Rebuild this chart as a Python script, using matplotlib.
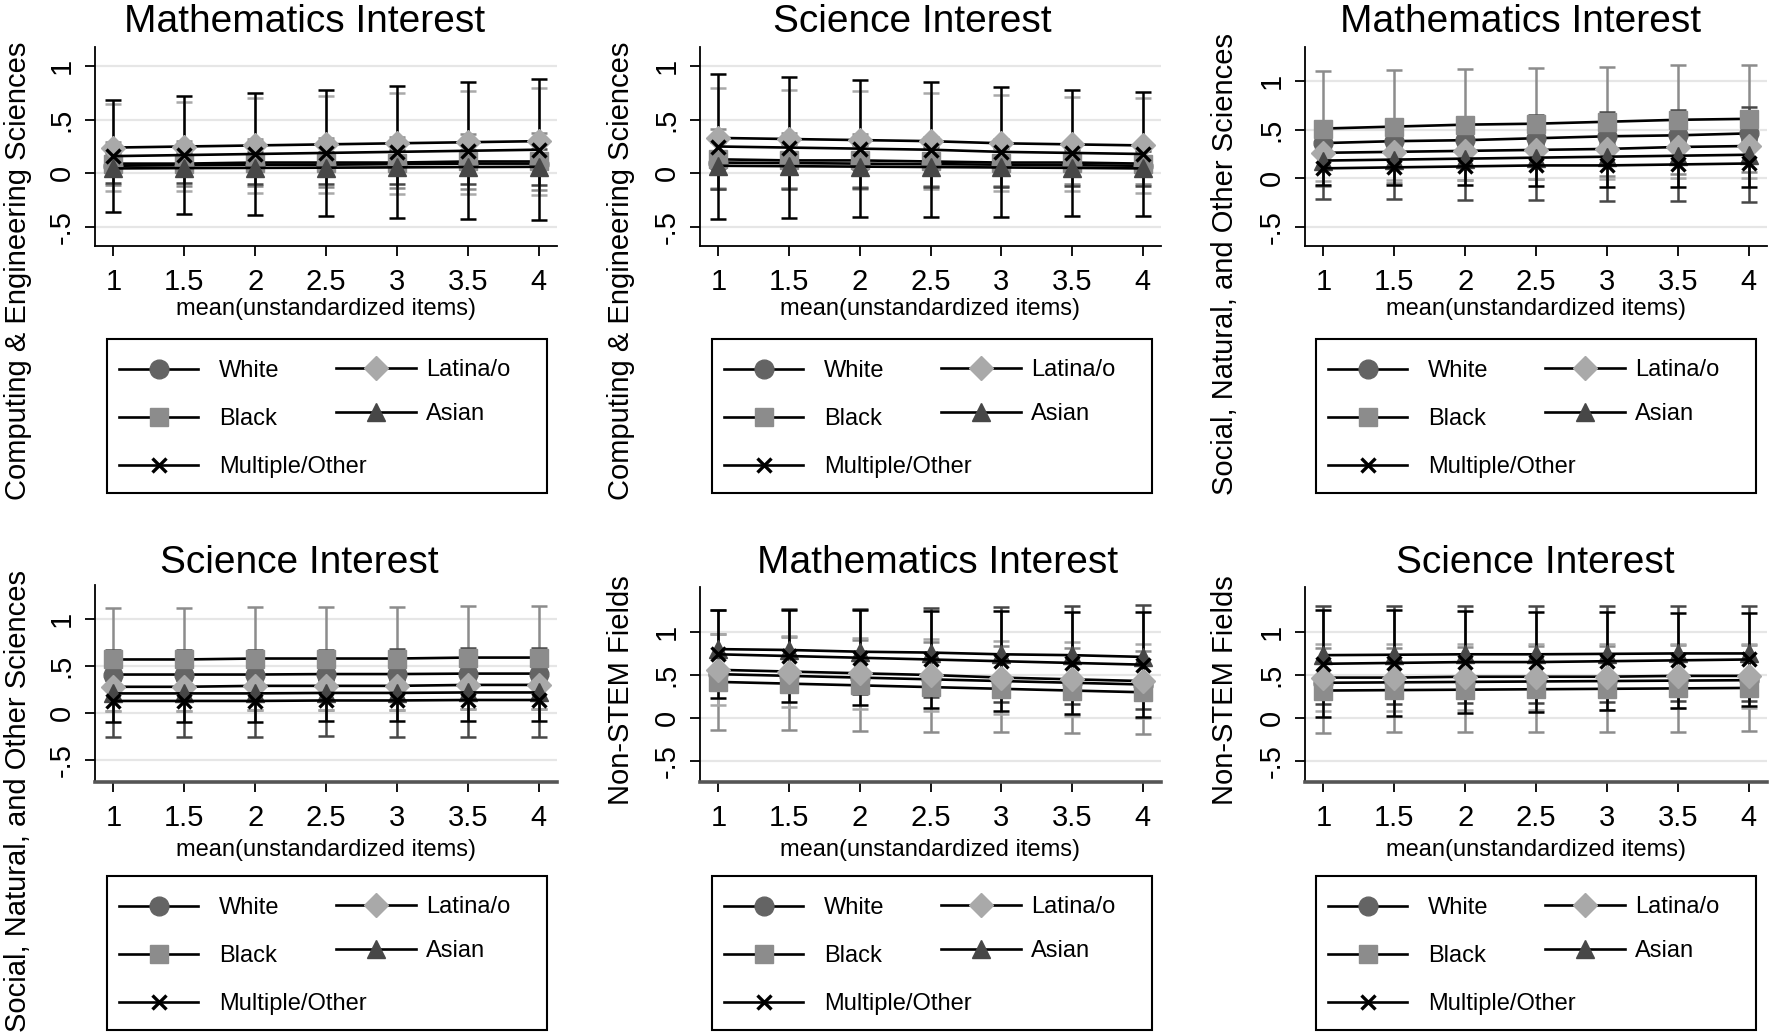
import matplotlib
matplotlib.use("Agg")
import matplotlib.pyplot as plt
from matplotlib.patches import Rectangle

plt.rcParams["font.family"] = ["Liberation Sans", "DejaVu Sans"]

W, H = 1770, 1033

x = [1, 1.5, 2, 2.5, 3, 3.5, 4]
x_ticklabels = ["1", "1.5", "2", "2.5", "3", "3.5", "4"]
y_ticks = [-0.5, 0, 0.5, 1]
y_ticklabels = ["-.5", "0", ".5", "1"]
groups = ["White", "Black", "Latina/o", "Asian", "Multiple/Other"]

# predicted values (mean) and CI half widths
ce_math_mean = {
    "White": [0.07, 0.075, 0.08, 0.08, 0.085, 0.09, 0.09],
    "Black": [0.09, 0.09, 0.10, 0.10, 0.10, 0.11, 0.11],
    "Latina/o": [0.24, 0.25, 0.26, 0.27, 0.28, 0.29, 0.30],
    "Asian": [0.045, 0.048, 0.05, 0.052, 0.055, 0.058, 0.06],
    "Multiple/Other": [0.16, 0.17, 0.18, 0.19, 0.20, 0.21, 0.22],
}
ce_math_ci = {
    "White": [0.04, 0.04, 0.04, 0.04, 0.04, 0.04, 0.04],
    "Black": [0.20, 0.21, 0.22, 0.23, 0.24, 0.26, 0.27],
    "Latina/o": [0.41, 0.42, 0.44, 0.45, 0.47, 0.48, 0.50],
    "Asian": [0.14, 0.14, 0.15, 0.15, 0.16, 0.16, 0.17],
    "Multiple/Other": [0.52, 0.55, 0.57, 0.59, 0.62, 0.64, 0.66],
}

ce_sci_mean = {
    "White": [0.10, 0.095, 0.09, 0.085, 0.08, 0.075, 0.07],
    "Black": [0.13, 0.12, 0.12, 0.11, 0.10, 0.10, 0.09],
    "Latina/o": [0.33, 0.32, 0.31, 0.30, 0.28, 0.27, 0.26],
    "Asian": [0.07, 0.066, 0.062, 0.058, 0.054, 0.05, 0.045],
    "Multiple/Other": [0.25, 0.24, 0.23, 0.22, 0.20, 0.19, 0.18],
}
ce_sci_ci = {
    "White": [0.04, 0.04, 0.04, 0.04, 0.04, 0.04, 0.04],
    "Black": [0.28, 0.26, 0.25, 0.23, 0.22, 0.20, 0.19],
    "Latina/o": [0.47, 0.46, 0.46, 0.45, 0.45, 0.44, 0.44],
    "Asian": [0.22, 0.21, 0.20, 0.19, 0.18, 0.17, 0.16],
    "Multiple/Other": [0.68, 0.66, 0.64, 0.63, 0.61, 0.59, 0.58],
}

sno_math_mean = {
    "White": [0.36, 0.38, 0.39, 0.41, 0.43, 0.44, 0.46],
    "Black": [0.51, 0.53, 0.55, 0.56, 0.58, 0.60, 0.61],
    "Latina/o": [0.26, 0.27, 0.28, 0.29, 0.30, 0.32, 0.33],
    "Asian": [0.18, 0.19, 0.20, 0.21, 0.22, 0.23, 0.24],
    "Multiple/Other": [0.10, 0.11, 0.12, 0.13, 0.13, 0.14, 0.15],
}
sno_math_ci = {
    "White": [0.05, 0.05, 0.05, 0.05, 0.05, 0.05, 0.05],
    "Black": [0.59, 0.58, 0.57, 0.57, 0.56, 0.56, 0.55],
    "Latina/o": [0.29, 0.29, 0.30, 0.30, 0.31, 0.32, 0.33],
    "Asian": [0.40, 0.41, 0.43, 0.44, 0.46, 0.47, 0.49],
    "Multiple/Other": [0.17, 0.18, 0.19, 0.21, 0.22, 0.23, 0.24],
}

sno_sci_mean = {
    "White": [0.41, 0.41, 0.41, 0.415, 0.415, 0.42, 0.42],
    "Black": [0.57, 0.57, 0.58, 0.58, 0.58, 0.59, 0.59],
    "Latina/o": [0.28, 0.28, 0.29, 0.29, 0.29, 0.30, 0.30],
    "Asian": [0.21, 0.21, 0.21, 0.215, 0.215, 0.22, 0.22],
    "Multiple/Other": [0.13, 0.13, 0.13, 0.135, 0.135, 0.14, 0.14],
}
sno_sci_ci = {
    "White": [0.05, 0.05, 0.05, 0.05, 0.05, 0.05, 0.05],
    "Black": [0.55, 0.55, 0.55, 0.55, 0.55, 0.55, 0.55],
    "Latina/o": [0.26, 0.26, 0.26, 0.26, 0.26, 0.26, 0.26],
    "Asian": [0.46, 0.46, 0.46, 0.46, 0.47, 0.47, 0.47],
    "Multiple/Other": [0.22, 0.22, 0.22, 0.22, 0.22, 0.22, 0.22],
}

ns_math_mean = {
    "White": [0.51, 0.49, 0.47, 0.45, 0.43, 0.41, 0.39],
    "Black": [0.42, 0.40, 0.38, 0.36, 0.34, 0.32, 0.30],
    "Latina/o": [0.56, 0.54, 0.52, 0.50, 0.47, 0.45, 0.43],
    "Asian": [0.80, 0.79, 0.77, 0.76, 0.74, 0.73, 0.71],
    "Multiple/Other": [0.74, 0.72, 0.70, 0.68, 0.66, 0.64, 0.62],
}
ns_math_ci = {
    "White": [0.05, 0.05, 0.05, 0.05, 0.05, 0.05, 0.05],
    "Black": [0.56, 0.54, 0.53, 0.52, 0.50, 0.49, 0.48],
    "Latina/o": [0.41, 0.41, 0.41, 0.42, 0.42, 0.43, 0.43],
    "Asian": [0.45, 0.47, 0.49, 0.52, 0.55, 0.57, 0.60],
    "Multiple/Other": [0.51, 0.53, 0.55, 0.56, 0.58, 0.59, 0.61],
}

ns_sci_mean = {
    "White": [0.41, 0.415, 0.42, 0.425, 0.43, 0.435, 0.44],
    "Black": [0.32, 0.325, 0.33, 0.335, 0.34, 0.345, 0.35],
    "Latina/o": [0.47, 0.47, 0.48, 0.48, 0.48, 0.49, 0.49],
    "Asian": [0.73, 0.735, 0.74, 0.74, 0.745, 0.75, 0.75],
    "Multiple/Other": [0.63, 0.64, 0.65, 0.65, 0.66, 0.67, 0.68],
}
ns_sci_ci = {
    "White": [0.05, 0.05, 0.05, 0.05, 0.05, 0.05, 0.05],
    "Black": [0.49, 0.49, 0.49, 0.50, 0.50, 0.50, 0.50],
    "Latina/o": [0.39, 0.39, 0.38, 0.38, 0.38, 0.37, 0.37],
    "Asian": [0.57, 0.57, 0.56, 0.56, 0.56, 0.55, 0.55],
    "Multiple/Other": [0.62, 0.61, 0.59, 0.58, 0.57, 0.55, 0.54],
}

# marker style per group: (marker, fill colour, size)
styles = {
    "White": ("o", "#646464", 13.5),
    "Black": ("s", "#8c8c8c", 12.5),
    "Latina/o": ("D", "#a9a9a9", 12),
    "Asian": ("^", "#474747", 13.5),
    "Multiple/Other": ("x", "black", 9.5),
}
ci_colors = {
    "White": "#646464",
    "Black": "#8c8c8c",
    "Latina/o": "#a9a9a9",
    "Asian": "#474747",
    "Multiple/Other": "black",
}

fig = plt.figure(figsize=(17.7, 10.33), dpi=100)


def add_panel(box, means, cis, ylim, title, title_xy, ylab, ylab_xy, legend_xy, bottom_row):
    left, top, right, bottom = box
    ax = fig.add_axes([left / W, 1 - bottom / H, (right - left) / W, (bottom - top) / H])
    handles = []
    for g in groups:
        ax.errorbar(x, means[g], yerr=cis[g], fmt="none", ecolor=ci_colors[g],
                    elinewidth=1.8, capsize=5.5, capthick=1.8, zorder=2)
    for g in groups:
        mk, c, ms = styles[g]
        ec = "black" if g == "Multiple/Other" else c
        h, = ax.plot(x, means[g], color="black", lw=1.9, marker=mk, ms=ms,
                     mfc=c, mec=ec, mew=2.4 if mk == "x" else 1, zorder=3)
        handles.append(h)

    ax.set_xlim(0.87, 4.13)
    ax.set_ylim(*ylim)
    ax.set_xticks(x)
    ax.set_xticklabels(x_ticklabels)
    ax.set_yticks(y_ticks)
    ax.set_yticklabels(y_ticklabels, rotation=90, va="center")
    ax.tick_params(axis="both", direction="out", length=7, width=1.3, labelsize=21)
    ax.tick_params(axis="x", pad=9)
    ax.tick_params(axis="y", pad=7)
    ax.yaxis.grid(True, color="#e6e6e6", lw=1.6)
    ax.set_axisbelow(True)
    for s in ["top", "right"]:
        ax.spines[s].set_visible(False)
    ax.spines["left"].set_linewidth(1.3)
    if bottom_row:
        ax.spines["bottom"].set_linewidth(2.6)
        ax.spines["bottom"].set_color("#555555")
        xl_off = 68
    else:
        ax.spines["bottom"].set_linewidth(1.3)
        xl_off = 63

    ax.set_xlabel("mean(unstandardized items)", fontsize=17)
    ax.xaxis.set_label_coords(0.5, -xl_off / (bottom - top))
    ax.xaxis.label.set_va("center")

    fig.text(title_xy[0] / W, 1 - title_xy[1] / H, title, fontsize=28, ha="center", va="baseline")
    fig.text(ylab_xy[0] / W, 1 - ylab_xy[1] / H, ylab, fontsize=21, rotation=90,
             ha="center", va="center")

    # legend box with two columns
    lx, ly = legend_xy
    fig.add_artist(Rectangle((lx / W, 1 - (ly + 154) / H), 440 / W, 154 / H,
                             transform=fig.transFigure, fill=False, ec="black", lw=1.5))
    fig.legend([handles[0], handles[1], handles[4]], ["White", "Black", "Multiple/Other"],
               loc="center left", bbox_to_anchor=((lx + 12) / W, 1 - (ly + 80) / H),
               frameon=False, borderpad=0, borderaxespad=0, handlelength=3.35,
               handletextpad=0.9, labelspacing=1.1, fontsize=17)
    fig.legend([handles[2], handles[3]], ["Latina/o", "Asian"],
               loc="center left", bbox_to_anchor=((lx + 229) / W, 1 - (ly + 53) / H),
               frameon=False, borderpad=0, borderaxespad=0, handlelength=3.4,
               handletextpad=0.4, labelspacing=0.95, fontsize=17)
    return ax


ylab_ce = "Computing & Engineering Sciences"
ylab_sno = "Social, Natural, and Other Sciences"
ylab_ns = "Non-STEM Fields"

add_panel((95, 47, 557, 246), ce_math_mean, ce_math_ci, (-0.68, 1.18),
          "Mathematics Interest", (305, 32), ylab_ce, (18, 271), (107, 339), False)
add_panel((700, 47, 1161, 246), ce_sci_mean, ce_sci_ci, (-0.68, 1.18),
          "Science Interest", (912, 32), ylab_ce, (621, 271), (712, 339), False)
add_panel((1305, 47, 1767, 246), sno_math_mean, sno_math_ci, (-0.70, 1.35),
          "Mathematics Interest", (1521, 32), ylab_sno, (1225, 264), (1316, 339), False)
add_panel((95, 585, 557, 782), sno_sci_mean, sno_sci_ci, (-0.73, 1.36),
          "Science Interest", (299, 573), ylab_sno, (18, 801), (107, 876), True)
add_panel((700, 587, 1161, 782), ns_math_mean, ns_math_ci, (-0.74, 1.52),
          "Mathematics Interest", (938, 573), ylab_ns, (621, 690), (712, 876), True)
add_panel((1305, 587, 1767, 782), ns_sci_mean, ns_sci_ci, (-0.74, 1.52),
          "Science Interest", (1535, 573), ylab_ns, (1225, 690), (1316, 876), True)

fig.savefig("out.png", dpi=100)
